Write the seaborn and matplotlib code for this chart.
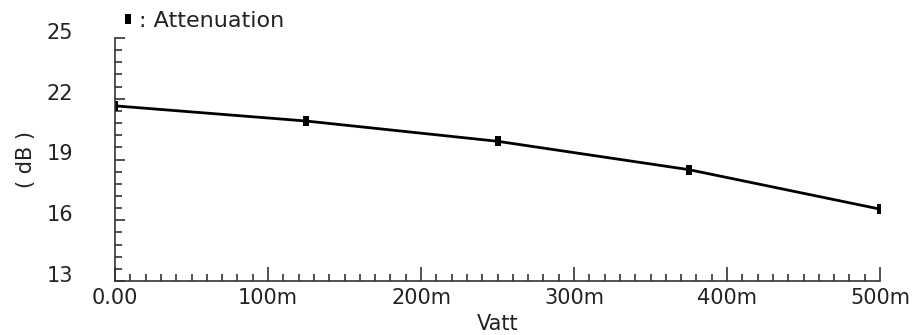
import matplotlib
matplotlib.use("Agg")
import matplotlib.pyplot as plt
import matplotlib.transforms as mtransforms
from matplotlib.lines import Line2D
from matplotlib.ticker import MultipleLocator
import seaborn as sns
import pandas as pd

# data
vatt = [0.0, 0.125, 0.25, 0.375, 0.5]
attenuation = [21.65, 20.9, 19.9, 18.5, 16.55]
x_ticks = [0.0, 0.1, 0.2, 0.3, 0.4, 0.5]
x_tick_labels = ["0.00", "100m", "200m", "300m", "400m", "500m"]
y_ticks = [13, 16, 19, 22, 25]
y_tick_labels = ["13", "16", "19", "22", "25"]

sns.set_theme(style="white")
plt.rcParams["font.family"] = ["DejaVu Sans"]

df = pd.DataFrame({"Vatt": vatt, "Attenuation": attenuation})

fig = plt.figure(figsize=(9.22, 3.35), dpi=100)
ax = fig.add_axes([115/922, 1-281/335, (880-115)/922, (281-38)/335])

rect = [(-0.5, -1), (0.5, -1), (0.5, 1), (-0.5, 1), (-0.5, -1)]
sns.lineplot(data=df, x="Vatt", y="Attenuation", ax=ax, color="black",
             linewidth=2, marker=rect, markersize=7.5, markeredgewidth=0,
             markerfacecolor="black")

ax.set_xlim(0, 0.5)
ax.set_ylim(13, 25)
ax.set_xticks(x_ticks)
ax.set_xticklabels(x_tick_labels)
ax.set_yticks(y_ticks)
ax.set_yticklabels(y_tick_labels)
ax.xaxis.set_minor_locator(MultipleLocator(0.01))
ax.yaxis.set_minor_locator(MultipleLocator(0.6, offset=0.4))

for s in ["top", "right"]:
    ax.spines[s].set_visible(False)
for s in ["left", "bottom"]:
    ax.spines[s].set_color("#333333")
    ax.spines[s].set_linewidth(1.2)

ax.tick_params(axis="x", which="major", direction="in", length=10, width=1.2,
               color="#333333", labelsize=15, labelcolor="#222222", pad=5)
ax.tick_params(axis="x", which="minor", direction="in", length=5, width=1.2,
               color="#333333")
ax.tick_params(axis="y", which="major", direction="in", length=7, width=1.2,
               color="#333333", labelsize=15, labelcolor="#222222", pad=30)
ax.tick_params(axis="y", which="minor", direction="in", length=5, width=1.2,
               color="#333333")
ax.tick_params(left=True, bottom=True, which="both")

offset = mtransforms.ScaledTranslation(0, 7/100, fig.dpi_scale_trans)
for lab in ax.get_yticklabels():
    lab.set_transform(lab.get_transform() + offset)

ax.set_xlabel("Vatt", fontsize=15, color="#222222", labelpad=4)
ax.set_ylabel("( dB )", fontsize=15, color="#222222", labelpad=8)

handle = Line2D([], [], linestyle="none", marker=rect, markersize=7.5,
                markerfacecolor="black", markeredgewidth=0, color="black")
leg = fig.legend([handle], [": Attenuation"], loc="center left",
                 bbox_to_anchor=(110/922, 1-21/335), frameon=False,
                 handlelength=0.6, handletextpad=0.2, borderpad=0,
                 fontsize=16)
for t in leg.get_texts():
    t.set_color("#222222")

fig.savefig("out.png", dpi=100)
